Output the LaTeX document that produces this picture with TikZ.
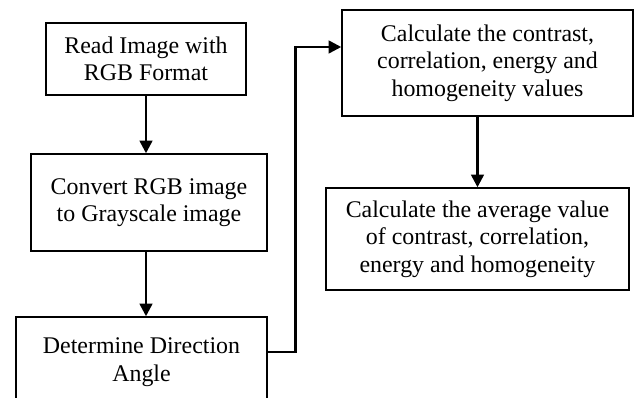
\documentclass[tikz,border=0pt]{standalone}
\usepackage{fontspec}
\setmainfont{Liberation Serif}
\usetikzlibrary{arrows.meta}

\begin{document}
\begin{tikzpicture}[x=0.025cm, y=-0.025cm,
		box/.style={draw, line width=1pt, align=center, inner sep=2pt,
			font=\fontsize{17}{19.5}\selectfont},
		flow/.style={-{Triangle[length=9pt,width=9pt]}, line width=1.8pt}]
		
		% Cadre de l'image (la dernière boîte est coupée en bas)
		\useasboundingbox (0,0) rectangle (634,398);
		\clip (0,0) rectangle (634,398);
		
		% Boîtes de la colonne de gauche
		\node[box, minimum width=5cm, minimum height=1.8cm] (read) at (146,59) {Read Image with\\RGB Format};
		\node[box, minimum width=5.9cm, minimum height=2.425cm] (convert) at (149,202.5) {Convert RGB image\\to Grayscale image};
		\node[box, minimum width=6.275cm, minimum height=2.25cm] (angle) at (141.5,362) {Determine Direction\\Angle};
		
		% Boîtes de la colonne de droite
		\node[box, minimum width=7.275cm, minimum height=2.65cm] (calc) at (487.5,63) {Calculate the contrast,\\correlation, energy and\\homogeneity values};
		\node[box, minimum width=7.575cm, minimum height=2.55cm] (avg) at (477.5,239) {Calculate the average value\\of contrast, correlation,\\energy and homogeneity};
		
		% Flèches verticales
		\draw[flow] (read.south) -- (read.south |- convert.north);
		\draw[flow] (read.south |- convert.south) -- (read.south |- angle.north);
		\draw[flow] (avg.north |- calc.south) -- (avg.north);
		
		% Flèche coudée vers la colonne de droite
		\draw[flow] ([yshift=0.25cm]angle.east) -- ++(28,0) |- ([yshift=0.4cm]calc.west);
		
	\end{tikzpicture}
\end{document}
